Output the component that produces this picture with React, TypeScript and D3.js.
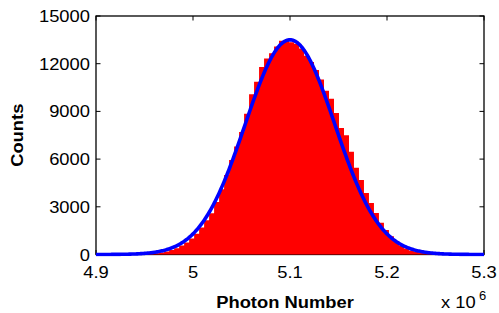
import React from "react";
import * as d3 from "d3";

// Histogram: left edge of first bin, bin width (photons), counts per bin
const BIN_START = 4.92905e6;
const BIN_WIDTH = 0.00515e6;
const COUNTS = [
  5, 8, 10, 18, 30, 50, 80, 125, 190, 280, 400, 560, 750, 1000, 1300, 1700,
  2150, 2600, 3300, 4100, 5000, 5950, 6800, 7700, 8850, 10080, 10870, 11800,
  12330, 12660, 13080, 13440, 13420, 13350, 13250, 12950, 12500, 12100, 11600,
  11000, 10300, 9800, 8900, 7950, 7500, 6470, 5450, 4690, 3870, 3240, 2610,
  2000, 1540, 1150, 820, 560, 380, 250, 160, 100, 60, 35, 20, 10, 5,
];

// Gaussian fit parameters
const FIT_AMPLITUDE = 13500;
const FIT_MEAN = 5.1e6;
const FIT_SIGMA = 0.0462e6;

const X_TICKS = [4.9e6, 5.0e6, 5.1e6, 5.2e6, 5.3e6];
const X_TICK_LABELS = ["4.9", "5", "5.1", "5.2", "5.3"];
const Y_TICKS = [0, 3000, 6000, 9000, 12000, 15000];

const W = 499;
const H = 313;
const M = { left: 96, right: 484, top: 16, bottom: 254.5 };

export default function App() {
  const x = d3.scaleLinear().domain([4.9e6, 5.3e6]).range([M.left, M.right]);
  const y = d3.scaleLinear().domain([0, 15000]).range([M.bottom, M.top]);

  // histogram as one step outline (no seams between bars)
  const histPath = d3.path();
  histPath.moveTo(x(BIN_START), y(0));
  COUNTS.forEach((c, i) => {
    const x0 = BIN_START + i * BIN_WIDTH;
    histPath.lineTo(x(x0), y(c));
    histPath.lineTo(x(x0 + BIN_WIDTH), y(c));
  });
  histPath.lineTo(x(BIN_START + COUNTS.length * BIN_WIDTH), y(0));
  histPath.closePath();

  const curveX = d3.range(0, 401).map((i) => 4.9e6 + (i / 400) * 0.4e6);
  const line = d3
    .line<number>()
    .x((v) => x(v))
    .y((v) =>
      y(FIT_AMPLITUDE * Math.exp(-((v - FIT_MEAN) ** 2) / (2 * FIT_SIGMA ** 2)))
    );

  const font = "'Liberation Sans', Arial, Helvetica, sans-serif";
  const fs = 17;
  const sx = 1.08;
  const tick = 4.5;

  return (
    <div style={{ position: "fixed", left: 0, top: 0, background: "#fff" }}>
      <svg width={W} height={H} style={{ display: "block" }}>
        <rect x={0} y={0} width={W} height={H} fill="#fff" />
        <defs>
          <clipPath id="plot">
            <rect x={M.left} y={M.top - 2} width={M.right - M.left} height={M.bottom - M.top + 4} />
          </clipPath>
        </defs>
        {/* axes box */}
        <rect
          x={M.left}
          y={M.top}
          width={M.right - M.left}
          height={M.bottom - M.top}
          fill="none"
          stroke="#000"
          strokeWidth={1.3}
        />
        {/* ticks */}
        {X_TICKS.map((t, i) => (
          <g key={"xt" + i}>
            <line x1={x(t)} x2={x(t)} y1={M.bottom} y2={M.bottom - tick} stroke="#000" strokeWidth={1} />
            <line x1={x(t)} x2={x(t)} y1={M.top} y2={M.top + tick} stroke="#000" strokeWidth={1} />
          </g>
        ))}
        {Y_TICKS.map((t, i) => (
          <g key={"yt" + i}>
            <line x1={M.left} x2={M.left + tick} y1={y(t)} y2={y(t)} stroke="#000" strokeWidth={1} />
            <line x1={M.right} x2={M.right - tick} y1={y(t)} y2={y(t)} stroke="#000" strokeWidth={1} />
          </g>
        ))}
        {/* histogram */}
        <g clipPath="url(#plot)">
          <path d={histPath.toString()} fill="#ff0000" stroke="none" />
        </g>
        {/* fit curve */}
        <g clipPath="url(#plot)">
          <path d={line(curveX) || ""} fill="none" stroke="#0000ff" strokeWidth={3.6} strokeLinejoin="round" />
        </g>
        {/* tick labels */}
        {Y_TICKS.map((t, i) => (
          <text
            key={"yl" + i}
            transform={`translate(${M.left - 6},${y(t) + 6}) scale(${sx},1)`}
            textAnchor="end"
            fontFamily={font}
            fontSize={fs}
            fill="#000"
          >
            {String(t)}
          </text>
        ))}
        {X_TICKS.map((t, i) => (
          <text
            key={"xl" + i}
            transform={`translate(${x(t)},${278}) scale(${sx},1)`}
            textAnchor="middle"
            fontFamily={font}
            fontSize={fs}
            fill="#000"
          >
            {X_TICK_LABELS[i]}
          </text>
        ))}
        {/* axis titles */}
        <text
          transform={`translate(285,308) scale(${sx},1)`}
          textAnchor="middle"
          fontFamily={font}
          fontSize={fs}
          fontWeight="bold"
          fill="#000"
        >
          Photon Number
        </text>
        <text
          transform={`translate(23,${(M.top + M.bottom) / 2}) rotate(-90) scale(${sx},1)`}
          textAnchor="middle"
          fontFamily={font}
          fontSize={fs}
          fontWeight="bold"
          fill="#000"
        >
          Counts
        </text>
        <text
          transform={`translate(441,308) scale(${sx},1)`}
          textAnchor="start"
          fontFamily={font}
          fontSize={fs}
          fill="#000"
        >
          x 10
        </text>
        <text
          transform={`translate(479,300) scale(${sx},1)`}
          textAnchor="start"
          fontFamily={font}
          fontSize={12}
          fill="#000"
        >
          6
        </text>
      </svg>
    </div>
  );
}
